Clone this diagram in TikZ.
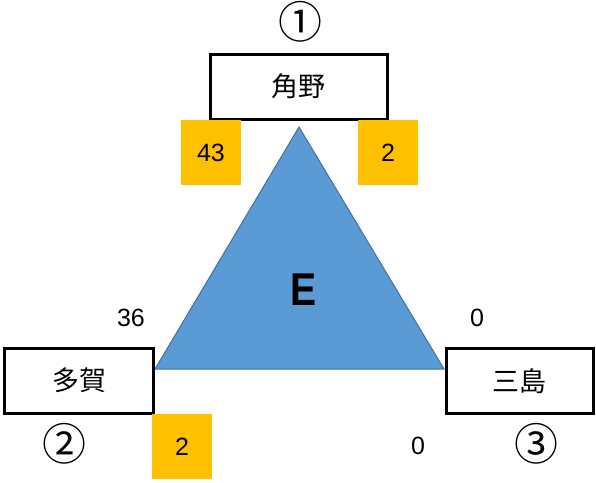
\documentclass[tikz,border=0pt]{standalone}
\usepackage{fontspec}
\setmainfont{Liberation Sans}
\newfontfamily\cjk{Noto Sans CJK JP}
\definecolor{triblue}{RGB}{91,155,213}
\definecolor{triedge}{RGB}{65,113,156}
\definecolor{gold}{RGB}{255,192,0}
\begin{document}
\begin{tikzpicture}[x=1pt,y=-1pt,
  namebox/.style={draw=black,line width=3pt,fill=white,minimum width=#1,minimum height=65pt,inner sep=0pt,font=\cjk\fontsize{27}{30}\selectfont},
  namebox/.default=176pt,
  numbox/.style={fill=gold,minimum width=60pt,minimum height=65pt,inner sep=0pt,font=\fontsize{25}{28}\selectfont},
  lbl/.style={inner sep=0pt,font=\fontsize{25}{28}\selectfont},
  circ/.style={inner sep=0pt,font=\cjk\fontsize{44}{46}\selectfont}]
\useasboundingbox (0,0) rectangle (596,482);
\coordinate (apex) at (299,127);
\coordinate (bl) at (155,369);
\coordinate (br) at (444,369);
\filldraw[fill=triblue,draw=triedge,line width=1pt] (apex) -- (bl) -- (br) -- cycle;
\node[namebox=177pt] (tsuno) at (298.5,86.5) {角野};
\node[namebox=149pt] (taga) at (79,380.5) {多賀};
\node[namebox=147pt] (mishima) at (519.5,381) {三島};
\node[numbox] (n43) at (211,152.5) {43};
\node[numbox] (n2a) at (388,152.5) {2};
\node[numbox] (n2b) at (182,446.5) {2};
\node[circ] (c1) at (300,22) {①};
\node[circ] (c2) at (64,444) {②};
\node[circ] (c3) at (536,444) {③};
\node[lbl] (v36) at (131,318) {36};
\node[lbl] (v0a) at (477,318) {0};
\node[lbl] (v0b) at (418,446) {0};
\node[inner sep=0pt,xscale=0.85,font=\bfseries\fontsize{46}{50}\selectfont] (E) at (303.5,290) {E};
\end{tikzpicture}
\end{document}
